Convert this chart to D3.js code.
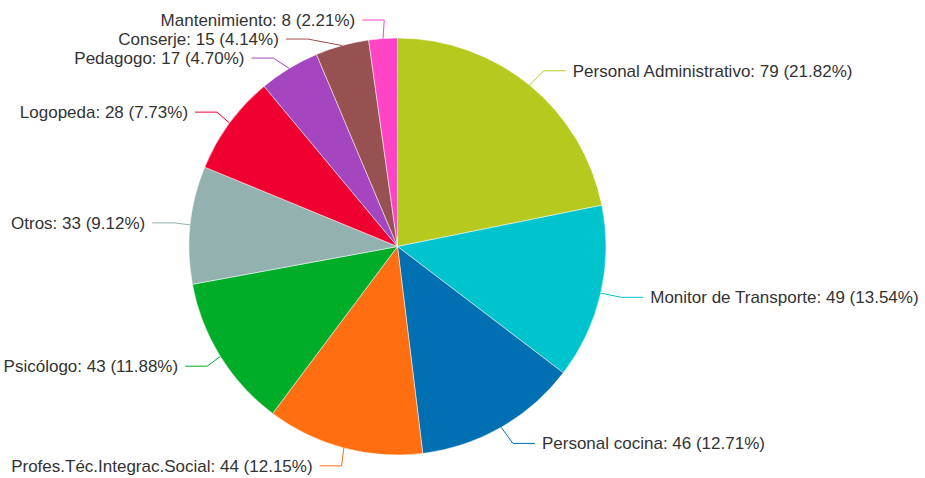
<!DOCTYPE html>
<html>
<head>
<meta charset="utf-8">
<script src="https://cdn.jsdelivr.net/npm/d3@7"></script>
<style>
  body { margin: 0; background: #fff; }
  text { font-family: "Liberation Sans", Arial, sans-serif; }
</style>
</head>
<body>
<div id="chart"></div>
<script>
// data
var categories = ['Personal Administrativo', 'Monitor de Transporte', 'Personal cocina',
  'Profes.Téc.Integrac.Social', 'Psicólogo', 'Otros', 'Logopeda', 'Pedagogo',
  'Conserje', 'Mantenimiento'];
var values = [79, 49, 46, 44, 43, 33, 28, 17, 15, 8];
var colors = ['#b5c91f', '#00c4cd', '#0070b3', '#ff6e10', '#00ad29',
  '#93b2af', '#ef0030', '#a346c0', '#975150', '#ff44c6'];

var width = 925, height = 478,
  cx = 397.5, cy = 246.5, radius = 208.5,
  len1 = 18.5, len2 = 22, gap = 7, minGap = 19, lblShift = 2.5;

var total = d3.sum(values);
var rows = categories.map(function(c, i) { return { name: c, value: values[i], color: colors[i] }; });

var svg = d3.select('#chart').append('svg')
  .attr('width', width)
  .attr('height', height);

var g = svg.append('g').attr('transform', 'translate(' + cx + ',' + cy + ')');

var pie = d3.pie().sort(null).value(function(d) { return d.value; });
var arc = d3.arc().innerRadius(0).outerRadius(radius);
var arcs = pie(rows);

g.selectAll('path.slice').data(arcs).enter()
  .append('path')
  .attr('class', 'slice')
  .attr('d', arc)
  .attr('fill', function(d) { return d.data.color; })
  .attr('stroke', '#fff')
  .attr('stroke-width', 0.5);

// label positions: bend point on an outer circle, pushed apart vertically per side
var R = radius + len1;
var labels = arcs.map(function(d) {
  var a = (d.startAngle + d.endAngle) / 2;
  var sx = Math.sin(a), sy = -Math.cos(a);
  return {
    d: d, right: sx >= 0,
    x0: sx * radius, y0: sy * radius,
    y1: sy * R
  };
});

['left', 'right'].forEach(function(side) {
  var list = labels.filter(function(l) { return (side === 'right') === l.right; })
    .sort(function(a, b) { return a.y1 - b.y1; });
  for (var i = 1; i < list.length; i++) {
    if (list[i].y1 - list[i - 1].y1 < minGap) list[i].y1 = list[i - 1].y1 + minGap;
  }
});

labels.forEach(function(l) {
  var dir = l.right ? 1 : -1;
  l.x1 = lblShift + dir * Math.sqrt(Math.max(R * R - l.y1 * l.y1, 0));
  l.x2 = l.x1 + dir * len2;
  l.tx = l.x2 + dir * gap;
});

g.selectAll('polyline.lbl').data(labels).enter()
  .append('polyline')
  .attr('class', 'lbl')
  .attr('points', function(l) { return [[l.x0, l.y0], [l.x1, l.y1], [l.x2, l.y1]].join(' '); })
  .attr('fill', 'none')
  .attr('stroke', function(l) { return l.d.data.color; })
  .attr('stroke-width', 1);

g.selectAll('text.lbl').data(labels).enter()
  .append('text')
  .attr('class', 'lbl')
  .attr('x', function(l) { return l.tx; })
  .attr('y', function(l) { return l.y1; })
  .attr('dy', '0.35em')
  .attr('text-anchor', function(l) { return l.right ? 'start' : 'end'; })
  .attr('font-size', 17)
  .attr('fill', '#333')
  .text(function(l) {
    var v = l.d.data.value;
    return l.d.data.name + ': ' + v + ' (' + (v / total * 100).toFixed(2) + '%)';
  });
</script>
</body>
</html>
